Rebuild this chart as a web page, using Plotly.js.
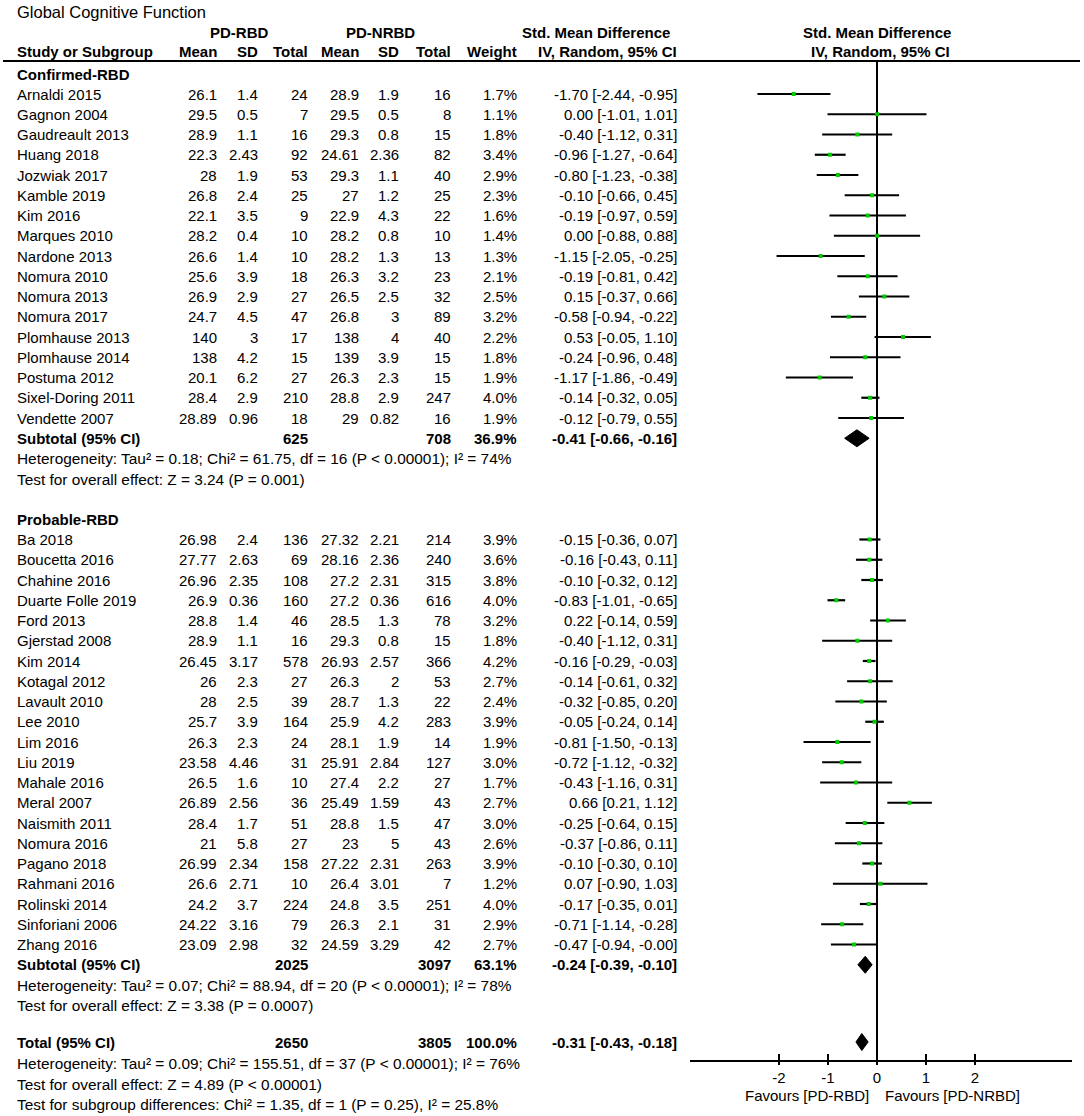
<!DOCTYPE html>
<html>
<head>
<meta charset="utf-8">
<script src="https://cdn.plot.ly/plotly-3.0.1.min.js"></script>
<style>html,body{margin:0;padding:0;background:#fff;}#chart{width:1084px;height:1116px;}</style>
</head>
<body>
<div id="chart"></div>
<script>
// ---------------- DATA ----------------
const confNames = ["Arnaldi 2015","Gagnon 2004","Gaudreault 2013","Huang 2018","Jozwiak 2017","Kamble 2019","Kim 2016","Marques 2010","Nardone 2013","Nomura 2010","Nomura 2013","Nomura 2017","Plomhause 2013","Plomhause 2014","Postuma 2012","Sixel-Doring 2011","Vendette 2007"];
const confMeanRBD = [26.1,29.5,28.9,22.3,28,26.8,22.1,28.2,26.6,25.6,26.9,24.7,140,138,20.1,28.4,28.89];
const confSdRBD = [1.4,0.5,1.1,2.43,1.9,2.4,3.5,0.4,1.4,3.9,2.9,4.5,3,4.2,6.2,2.9,0.96];
const confNRBD = [24,7,16,92,53,25,9,10,10,18,27,47,17,15,27,210,18];
const confMeanNRBD = [28.9,29.5,29.3,24.61,29.3,27,22.9,28.2,28.2,26.3,26.5,26.8,138,139,26.3,28.8,29];
const confSdNRBD = [1.9,0.5,0.8,2.36,1.1,1.2,4.3,0.8,1.3,3.2,2.5,3,4,3.9,2.3,2.9,0.82];
const confNNRBD = [16,8,15,82,40,25,22,10,13,23,32,89,40,15,15,247,16];
const confWeight = [1.7,1.1,1.8,3.4,2.9,2.3,1.6,1.4,1.3,2.1,2.5,3.2,2.2,1.8,1.9,4.0,1.9];
const confSMD = [-1.70,0.00,-0.40,-0.96,-0.80,-0.10,-0.19,0.00,-1.15,-0.19,0.15,-0.58,0.53,-0.24,-1.17,-0.14,-0.12];
const confLo = [-2.44,-1.01,-1.12,-1.27,-1.23,-0.66,-0.97,-0.88,-2.05,-0.81,-0.37,-0.94,-0.05,-0.96,-1.86,-0.32,-0.79];
const confHi = [-0.95,1.01,0.31,-0.64,-0.38,0.45,0.59,0.88,-0.25,0.42,0.66,-0.22,1.10,0.48,-0.49,0.05,0.55];

const probNames = ["Ba 2018","Boucetta 2016","Chahine 2016","Duarte Folle 2019","Ford 2013","Gjerstad 2008","Kim 2014","Kotagal 2012","Lavault 2010","Lee 2010","Lim 2016","Liu 2019","Mahale 2016","Meral 2007","Naismith 2011","Nomura 2016","Pagano 2018","Rahmani 2016","Rolinski 2014","Sinforiani 2006","Zhang 2016"];
const probMeanRBD = [26.98,27.77,26.96,26.9,28.8,28.9,26.45,26,28,25.7,26.3,23.58,26.5,26.89,28.4,21,26.99,26.6,24.2,24.22,23.09];
const probSdRBD = [2.4,2.63,2.35,0.36,1.4,1.1,3.17,2.3,2.5,3.9,2.3,4.46,1.6,2.56,1.7,5.8,2.34,2.71,3.7,3.16,2.98];
const probNRBD = [136,69,108,160,46,16,578,27,39,164,24,31,10,36,51,27,158,10,224,79,32];
const probMeanNRBD = [27.32,28.16,27.2,27.2,28.5,29.3,26.93,26.3,28.7,25.9,28.1,25.91,27.4,25.49,28.8,23,27.22,26.4,24.8,26.3,24.59];
const probSdNRBD = [2.21,2.36,2.31,0.36,1.3,0.8,2.57,2,1.3,4.2,1.9,2.84,2.2,1.59,1.5,5,2.31,3.01,3.5,2.1,3.29];
const probNNRBD = [214,240,315,616,78,15,366,53,22,283,14,127,27,43,47,43,263,7,251,31,42];
const probWeight = [3.9,3.6,3.8,4.0,3.2,1.8,4.2,2.7,2.4,3.9,1.9,3.0,1.7,2.7,3.0,2.6,3.9,1.2,4.0,2.9,2.7];
const probSMD = [-0.15,-0.16,-0.10,-0.83,0.22,-0.40,-0.16,-0.14,-0.32,-0.05,-0.81,-0.72,-0.43,0.66,-0.25,-0.37,-0.10,0.07,-0.17,-0.71,-0.47];
const probLo = [-0.36,-0.43,-0.32,-1.01,-0.14,-1.12,-0.29,-0.61,-0.85,-0.24,-1.50,-1.12,-1.16,0.21,-0.64,-0.86,-0.30,-0.90,-0.35,-1.14,-0.94];
const probHi = [0.07,0.11,0.12,-0.65,0.59,0.31,-0.03,0.32,0.20,0.14,-0.13,-0.32,0.31,1.12,0.15,0.11,0.10,1.03,0.01,-0.28,-0.00];

// subtotal / total: [N RBD, N NRBD, weight, est, lo, hi]
const subtotalConf = [625, 708, 36.9, -0.41, -0.66, -0.16];
const subtotalProb = [2025, 3097, 63.1, -0.24, -0.39, -0.10];
const totalAll = [2650, 3805, 100.0, -0.31, -0.43, -0.18];

const hetConf = "Heterogeneity: Tau² = 0.18; Chi² = 61.75, df = 16 (P < 0.00001); I² = 74%";
const testConf = "Test for overall effect: Z = 3.24 (P = 0.001)";
const hetProb = "Heterogeneity: Tau² = 0.07; Chi² = 88.94, df = 20 (P < 0.00001); I² = 78%";
const testProb = "Test for overall effect: Z = 3.38 (P = 0.0007)";
const hetTotal = "Heterogeneity: Tau² = 0.09; Chi² = 155.51, df = 37 (P < 0.00001); I² = 76%";
const testTotal = "Test for overall effect: Z = 4.89 (P < 0.00001)";
const testSub = "Test for subgroup differences: Chi² = 1.35, df = 1 (P = 0.25), I² = 25.8%";

const tickVals = [-2,-1,0,1,2];
const tickText = ["-2","-1","0","1","2"];

// ---------------- LAYOUT HELPERS ----------------
const W = 1084, H = 1116;
const FONT = "Liberation Sans, Arial, Helvetica, sans-serif";
const FS = 15, FS_NOTE = 15.4;
const zeroPx = 877, pxPerUnit = 49;
const axL = 690, axR = 1072, axY = 1061;
const pitch = 20.25;

const col = {left:15, mean1:219, sd1:260, tot1:310, mean2:361, sd2:401, tot2:453, w:519, ci:679};

function fmt2(v){ return (v < 0 || Object.is(v,-0)) ? "-" + Math.abs(v).toFixed(2) : v.toFixed(2); }
function ciText(e,l,h){ return fmt2(e) + " [" + fmt2(l) + ", " + fmt2(h) + "]"; }

const ann = [];
function T(text, x, y, anchor, bold, size){
  ann.push({text: bold ? "<b>"+text+"</b>" : text, x: x/W, xref:"paper", y: y, yref:"y",
    xanchor: anchor, yanchor:"middle", showarrow:false,
    font:{family:FONT, size:size||FS, color:"#000"}});
}

// rows
const yConfLabel = 74, yConf0 = 94;
const yConf = confNames.map((_,i)=> yConf0 + i*pitch);
const ySubConf = yConf0 + confNames.length*pitch;
const yHetConf = ySubConf + 20.5, yTestConf = yHetConf + 20.5;
const yProbLabel = 519, yProb0 = 539.5;
const yProb = probNames.map((_,i)=> yProb0 + i*pitch);
const ySubProb = yProb0 + probNames.length*pitch;
const yHetProb = ySubProb + 20.5, yTestProb = yHetProb + 20.5;
const yTotal = 1042, yHetTot = 1063, yTestTot = 1084, ySubDiff = 1104;

// title & headers
T("Global Cognitive Function", col.left, 12, "left", false, 16.5);
T("PD-RBD", 239, 32, "center", true);
T("PD-NRBD", 380, 32, "center", true);
T("Std. Mean Difference", 596, 32, "center", true);
T("Std. Mean Difference", zeroPx, 32, "center", true);
T("Study or Subgroup", col.left, 51, "left", true);
T("Mean", col.mean1, 51, "right", true);
T("SD", col.sd1, 51, "right", true);
T("Total", col.tot1, 51, "right", true);
T("Mean", col.mean2, 51, "right", true);
T("SD", col.sd2, 51, "right", true);
T("Total", col.tot2, 51, "right", true);
T("Weight", col.w, 51, "right", true);
T("IV, Random, 95% CI", col.ci, 51, "right", true);
T("IV, Random, 95% CI", zeroPx+3, 51, "center", true);

function studyRows(names, m1, s1, n1, m2, s2, n2, w, e, lo, hi, ys){
  names.forEach((nm,i)=>{
    const y = ys[i];
    T(nm, col.left, y, "left");
    T(String(m1[i]), col.mean1, y, "right");
    T(String(s1[i]), col.sd1, y, "right");
    T(String(n1[i]), col.tot1, y, "right");
    T(String(m2[i]), col.mean2, y, "right");
    T(String(s2[i]), col.sd2, y, "right");
    T(String(n2[i]), col.tot2, y, "right");
    T(w[i].toFixed(1)+"%", col.w, y, "right");
    T(ciText(e[i],lo[i],hi[i]), col.ci, y, "right");
  });
}
function sumRow(label, s, y){
  T(label, col.left, y, "left", true);
  T(String(s[0]), col.tot1, y, "right", true);
  T(String(s[1]), col.tot2, y, "right", true);
  T(s[2].toFixed(1)+"%", col.w, y, "right", true);
  T(ciText(s[3],s[4],s[5]), col.ci, y, "right", true);
}

T("Confirmed-RBD", col.left, yConfLabel, "left", true);
studyRows(confNames, confMeanRBD, confSdRBD, confNRBD, confMeanNRBD, confSdNRBD, confNNRBD, confWeight, confSMD, confLo, confHi, yConf);
sumRow("Subtotal (95% CI)", subtotalConf, ySubConf);
T(hetConf, col.left, yHetConf, "left", false, FS_NOTE);
T(testConf, col.left, yTestConf, "left", false, FS_NOTE);

T("Probable-RBD", col.left, yProbLabel, "left", true);
studyRows(probNames, probMeanRBD, probSdRBD, probNRBD, probMeanNRBD, probSdNRBD, probNNRBD, probWeight, probSMD, probLo, probHi, yProb);
sumRow("Subtotal (95% CI)", subtotalProb, ySubProb);
T(hetProb, col.left, yHetProb, "left", false, FS_NOTE);
T(testProb, col.left, yTestProb, "left", false, FS_NOTE);

sumRow("Total (95% CI)", totalAll, yTotal);
T(hetTotal, col.left, yHetTot, "left", false, FS_NOTE);
T(testTotal, col.left, yTestTot, "left", false, FS_NOTE);
T(testSub, col.left, ySubDiff, "left", false, FS_NOTE);

T("Favours [PD-RBD]", zeroPx-6, 1095, "right");
T("Favours [PD-NRBD]", zeroPx+6, 1095, "left");

// ---------------- TRACES ----------------
const allLo = confLo.concat(probLo), allHi = confHi.concat(probHi);
const allE = confSMD.concat(probSMD), allY = yConf.concat(yProb);
const lx = [], ly = [];
allLo.forEach((l,i)=>{ lx.push(l, allHi[i], null); ly.push(allY[i], allY[i], null); });

const traces = [
  {type:"scatter", mode:"lines", x:lx, y:ly, line:{color:"#000", width:2.2}, hoverinfo:"skip", showlegend:false},
  {type:"scatter", mode:"markers", x:allE, y:allY, marker:{symbol:"square", size:4, color:"rgb(0,204,0)", line:{width:0}}, hoverinfo:"skip", showlegend:false}
];
[[subtotalConf, ySubConf],[subtotalProb, ySubProb],[totalAll, yTotal]].forEach(([s,y])=>{
  traces.push({type:"scatter", mode:"lines", x:[s[4], s[3], s[5], s[3], s[4]], y:[y, y-8.5, y, y+8.5, y],
    fill:"toself", fillcolor:"#000", line:{color:"#000", width:1}, hoverinfo:"skip", showlegend:false});
});
traces.push({type:"scatter", mode:"markers", x:[null], y:[null], xaxis:"x2", yaxis:"y", hoverinfo:"skip", showlegend:false});

const xRange = [(axL-zeroPx)/pxPerUnit, (axR-zeroPx)/pxPerUnit];
const axPos = 1 - axY/H;

const layout = {
  width:W, height:H, margin:{l:0,r:0,t:0,b:0},
  paper_bgcolor:"#fff", plot_bgcolor:"rgba(0,0,0,0)",
  showlegend:false, hovermode:false,
  font:{family:FONT, size:FS, color:"#000"},
  xaxis:{domain:[axL/W, axR/W], range:xRange, anchor:"free", position:axPos,
    showline:true, linecolor:"#000", linewidth:2, ticks:"outside", ticklen:3, tickwidth:2, tickcolor:"#000",
    tickvals:tickVals, ticktext:tickText, tickfont:{family:FONT, size:FS, color:"#000"},
    showgrid:false, zeroline:false, fixedrange:true},
  xaxis2:{domain:[axL/W, axR/W], range:xRange, overlaying:"x", anchor:"free", position:axPos,
    showline:false, ticks:"inside", ticklen:7, tickwidth:2, tickcolor:"#000",
    tickvals:tickVals, showticklabels:false, showgrid:false, zeroline:false, fixedrange:true},
  yaxis:{domain:[0,1], range:[H,0], visible:false, showgrid:false, zeroline:false, fixedrange:true},
  shapes:[
    {type:"line", xref:"paper", yref:"y", x0:3/W, x1:1080/W, y0:61, y1:61, line:{color:"#000", width:2}},
    {type:"line", xref:"x", yref:"y", x0:0, x1:0, y0:61, y1:axY, line:{color:"#000", width:2}, layer:"below"}
  ],
  annotations:ann
};

Plotly.newPlot("chart", traces, layout, {staticPlot:true, displayModeBar:false});
</script>
</body>
</html>
